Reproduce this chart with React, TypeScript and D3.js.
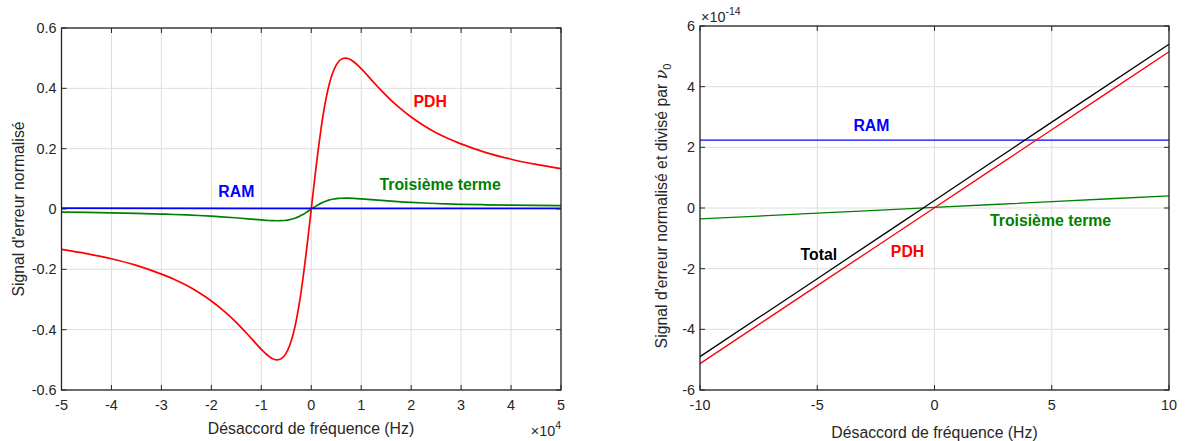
import React from 'react';
import * as d3 from 'd3';

// ---------- Left panel data (frequency in Hz) ----------
const leftFreq = [-50000, -45000, -40000, -35000, -30000, -27500, -25000, -22500, -20000, -18000, -16000, -14000, -12000, -10000, -8500, -7500, -6800, -6000, -5500, -5000, -4500, -4000, -3500, -3000, -2500, -2000, -1500, -1000, -500, 0, 500, 1000, 1500, 2000, 2500, 3000, 3500, 4000, 4500, 5000, 5500, 6000, 6800, 7500, 8500, 10000, 12000, 14000, 16000, 18000, 20000, 22500, 25000, 27500, 30000, 35000, 40000, 45000, 50000];
const leftPDH = [-0.134, -0.148, -0.165, -0.187, -0.216, -0.233, -0.253, -0.277, -0.305, -0.331, -0.360, -0.393, -0.429, -0.465, -0.488, -0.498, -0.500, -0.496, -0.489, -0.477, -0.460, -0.437, -0.407, -0.369, -0.324, -0.271, -0.210, -0.144, -0.073, 0, 0.073, 0.144, 0.210, 0.271, 0.324, 0.369, 0.407, 0.437, 0.460, 0.477, 0.489, 0.496, 0.500, 0.498, 0.488, 0.465, 0.429, 0.393, 0.360, 0.331, 0.305, 0.277, 0.253, 0.233, 0.216, 0.187, 0.165, 0.148, 0.134];
const leftThird = [-0.0105, -0.0115, -0.0129, -0.0146, -0.0168, -0.0182, -0.0197, -0.0216, -0.0238, -0.0258, -0.0281, -0.0307, -0.0335, -0.0363, -0.0381, -0.0388, -0.0390, -0.0387, -0.0381, -0.0372, -0.0359, -0.0341, -0.0317, -0.0288, -0.0253, -0.0211, -0.0164, -0.0112, -0.0057, 0, 0.0053, 0.0104, 0.0151, 0.0195, 0.0233, 0.0266, 0.0293, 0.0315, 0.0331, 0.0343, 0.0352, 0.0357, 0.0360, 0.0358, 0.0351, 0.0335, 0.0309, 0.0283, 0.0259, 0.0238, 0.0220, 0.0199, 0.0182, 0.0168, 0.0156, 0.0140, 0.0128, 0.0119, 0.0112];
const leftRamFreq = [-50000, 0, 50000];
const leftRAM = [0.003, 0.002, 0.002];
const leftXTicks = [-50000, -40000, -30000, -20000, -10000, 0, 10000, 20000, 30000, 40000, 50000];
const leftYTicks = [-0.6, -0.4, -0.2, 0, 0.2, 0.4, 0.6];

// ---------- Right panel data (frequency in Hz, values x1e-14) ----------
const rightFreq = [-10, -5, 0, 5, 10];
const rightTotal = [-4.90, -2.33, 0.25, 2.83, 5.40];
const rightPDH = [-5.13, -2.56, 0.01, 2.58, 5.15];
const rightThird = [-0.36, -0.17, 0.02, 0.21, 0.40];
const rightRAM = [2.24, 2.24, 2.24, 2.24, 2.24];
const rightXTicks = [-10, -5, 0, 5, 10];
const rightYTicks = [-6, -4, -2, 0, 2, 4, 6];

const FONT = "'Liberation Sans', Arial, Helvetica, sans-serif";
const AXC = '#262626';
const GRID = '#dedede';
const TICK_FS = 14.4;
const LABEL_FS = 15.8;
const TICK_LEN = 5;

type Series = { x: number[]; y: number[]; color: string; width: number };
type Note = { text: string; x: number; y: number; color: string };

function Panel(props: {
  box: { x0: number; x1: number; y0: number; y1: number };
  xDomain: [number, number];
  yDomain: [number, number];
  xTicks: number[];
  yTicks: number[];
  xFmt: (v: number) => string;
  yFmt: (v: number) => string;
  series: Series[];
  notes: Note[];
}) {
  const { box, xDomain, yDomain, xTicks, yTicks, xFmt, yFmt, series, notes } = props;
  const xs = d3.scaleLinear().domain(xDomain).range([box.x0, box.x1]);
  const ys = d3.scaleLinear().domain(yDomain).range([box.y1, box.y0]);
  return (
    <g>
      {xTicks.map((t) => (
        <line key={'gx' + t} x1={xs(t)} x2={xs(t)} y1={box.y0} y2={box.y1} stroke={GRID} strokeWidth={1} />
      ))}
      {yTicks.map((t) => (
        <line key={'gy' + t} x1={box.x0} x2={box.x1} y1={ys(t)} y2={ys(t)} stroke={GRID} strokeWidth={1} />
      ))}
      {series.map((s, i) => {
        const pts = s.x.map((v, k) => [v, s.y[k]] as [number, number]);
        const gen = d3
          .line<[number, number]>()
          .x((d) => xs(d[0]))
          .y((d) => ys(d[1]))
          .curve(d3.curveMonotoneX);
        return <path key={'s' + i} d={gen(pts) || ''} fill="none" stroke={s.color} strokeWidth={s.width} strokeLinejoin="round" />;
      })}
      {xTicks.map((t) => (
        <g key={'tx' + t}>
          <line x1={xs(t)} x2={xs(t)} y1={box.y1} y2={box.y1 - TICK_LEN} stroke={AXC} strokeWidth={1} />
          <line x1={xs(t)} x2={xs(t)} y1={box.y0} y2={box.y0 + TICK_LEN} stroke={AXC} strokeWidth={1} />
          <text x={xs(t)} y={box.y1 + 20} textAnchor="middle" fontSize={TICK_FS} fill={AXC} fontFamily={FONT}>
            {xFmt(t)}
          </text>
        </g>
      ))}
      {yTicks.map((t) => (
        <g key={'ty' + t}>
          <line x1={box.x0} x2={box.x0 + TICK_LEN} y1={ys(t)} y2={ys(t)} stroke={AXC} strokeWidth={1} />
          <line x1={box.x1} x2={box.x1 - TICK_LEN} y1={ys(t)} y2={ys(t)} stroke={AXC} strokeWidth={1} />
          <text x={box.x0 - 5} y={ys(t) + 5} textAnchor="end" fontSize={TICK_FS} fill={AXC} fontFamily={FONT}>
            {yFmt(t)}
          </text>
        </g>
      ))}
      <rect x={box.x0} y={box.y0} width={box.x1 - box.x0} height={box.y1 - box.y0} fill="none" stroke={AXC} strokeWidth={1.3} />
      {notes.map((n, i) => (
        <text key={'n' + i} x={xs(n.x)} y={ys(n.y) + LABEL_FS * 0.36} textAnchor="middle" fontSize={LABEL_FS} fontWeight="bold" fill={n.color} fontFamily={FONT}>
          {n.text}
        </text>
      ))}
    </g>
  );
}

export default function App() {
  const leftBox = { x0: 61.5, x1: 561, y0: 28, y1: 390 };
  const rightBox = { x0: 700, x1: 1169, y0: 26, y1: 390 };
  const fmtL = (v: number) => (v === 0 ? '0' : v.toFixed(1));
  const fmtInt = (v: number) => String(v);
  return (
    <svg width={1188} height={441} style={{ position: 'absolute', left: 0, top: 0, background: '#fff' }} fontFamily={FONT}>
      <rect x={0} y={0} width={1188} height={441} fill="#fff" />
      <Panel
        box={leftBox}
        xDomain={[-50000, 50000]}
        yDomain={[-0.6, 0.6]}
        xTicks={leftXTicks}
        yTicks={leftYTicks}
        xFmt={(v) => String(v / 10000)}
        yFmt={fmtL}
        series={[
          { x: leftFreq, y: leftThird, color: '#008000', width: 1.7 },
          { x: leftFreq, y: leftPDH, color: '#ff0000', width: 1.7 },
          { x: leftRamFreq, y: leftRAM, color: '#0000ff', width: 1.7 },
        ]}
        notes={[
          { text: 'PDH', x: 23800, y: 0.358, color: '#ff0000' },
          { text: 'RAM', x: -15000, y: 0.058, color: '#0000ff' },
          { text: 'Troisième terme', x: 25800, y: 0.083, color: '#008000' },
        ]}
      />
      <Panel
        box={rightBox}
        xDomain={[-10, 10]}
        yDomain={[-6, 6]}
        xTicks={rightXTicks}
        yTicks={rightYTicks}
        xFmt={fmtInt}
        yFmt={fmtInt}
        series={[
          { x: rightFreq, y: rightRAM, color: '#0000ff', width: 1.3 },
          { x: rightFreq, y: rightThird, color: '#008000', width: 1.3 },
          { x: rightFreq, y: rightTotal, color: '#000000', width: 1.3 },
          { x: rightFreq, y: rightPDH, color: '#ff0000', width: 1.3 },
        ]}
        notes={[
          { text: 'RAM', x: -2.69, y: 2.72, color: '#0000ff' },
          { text: 'Troisième terme', x: 4.95, y: -0.4, color: '#008000' },
          { text: 'Total', x: -4.93, y: -1.52, color: '#000000' },
          { text: 'PDH', x: -1.15, y: -1.44, color: '#ff0000' },
        ]}
      />
      <text x={311} y={434} textAnchor="middle" fontSize={LABEL_FS} fill={AXC}>Désaccord de fréquence (Hz)</text>
      <text x={934.5} y={438} textAnchor="middle" fontSize={LABEL_FS} fill={AXC}>Désaccord de fréquence (Hz)</text>
      <text transform="translate(24,209) rotate(-90)" textAnchor="middle" fontSize={LABEL_FS} fill={AXC}>Signal d'erreur normalisé</text>
      <text transform="translate(667,206) rotate(-90)" textAnchor="middle" fontSize={LABEL_FS} fill={AXC}>
        Signal d'erreur normalisé et divisé par <tspan fontStyle="italic" fontFamily="'DejaVu Serif', 'Liberation Serif', serif">ν</tspan>
        <tspan fontSize={11} dy={4}>0</tspan>
      </text>
      <text x={561} y={436} textAnchor="end" fontSize={TICK_FS} fill={AXC}>
        ×10<tspan fontSize={10.5} dy={-7}>4</tspan>
      </text>
      <text x={701} y={22} textAnchor="start" fontSize={TICK_FS} fill={AXC}>
        ×10<tspan fontSize={10.5} dy={-7}>-14</tspan>
      </text>
    </svg>
  );
}
